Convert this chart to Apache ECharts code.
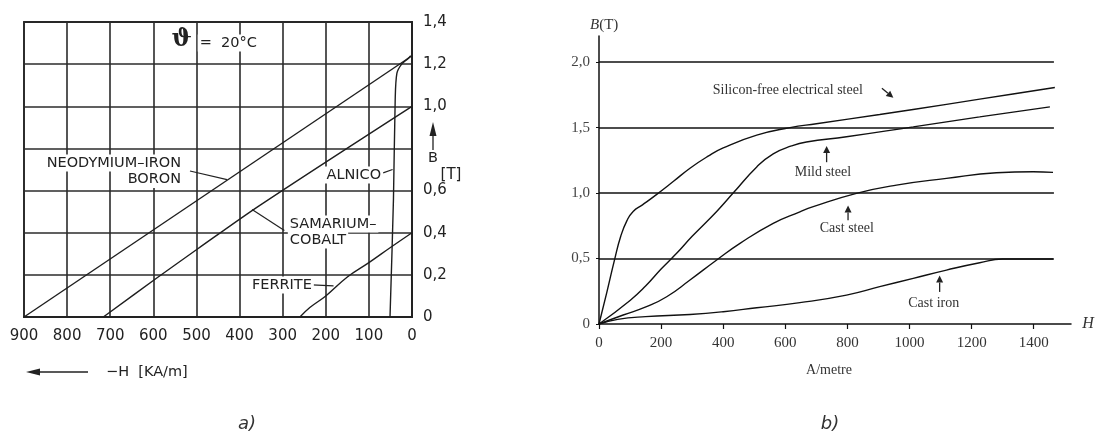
<!DOCTYPE html>
<html><head><meta charset="utf-8">
<script src="https://cdn.jsdelivr.net/npm/echarts@6/dist/echarts.min.js"></script>
<style>html,body{margin:0;padding:0;background:#fff;}#c{width:1099px;height:442px;}</style>
</head><body><div id="c"></div>
<script>
// ---------- Chart a) demagnetisation curves (-H in kA/m, B in T) ----------
const ndfebH   = [900, 0];
const ndfebB   = [0, 1.24];
const smcoH    = [716, 592, 496, 353, 0];
const smcoB    = [0, 0.185, 0.325, 0.53, 1.0];
const alnicoH  = [3, 10, 24, 35, 39, 43, 51];
const alnicoB  = [1.24, 1.225, 1.2, 1.157, 1.03, 0.56, 0];
const ferriteH = [260, 237, 200, 150, 100, 50, 0];
const ferriteB = [0, 0.045, 0.1, 0.19, 0.258, 0.33, 0.4];

// ---------- Chart b) B-H magnetisation curves (H in A/m, B in T) ----------
const siliconH = [0, 25, 50, 70, 90, 110, 140, 186, 240, 293, 350, 400, 508, 615, 700, 904, 1119, 1333, 1468];
const siliconB = [0, 0.24, 0.49, 0.67, 0.79, 0.86, 0.91, 0.99, 1.09, 1.19, 1.28, 1.345, 1.443, 1.5, 1.53, 1.6, 1.678, 1.757, 1.807];
const mildH    = [0, 100, 150, 200, 250, 300, 379, 432, 508, 561, 620, 668, 797, 1012, 1226, 1452];
const mildB    = [0, 0.18, 0.29, 0.42, 0.54, 0.67, 0.86, 1.0, 1.2, 1.3, 1.36, 1.39, 1.43, 1.506, 1.582, 1.659];
const castSteelH = [0, 78, 153, 218, 293, 379, 454, 561, 647, 690, 829, 958, 1119, 1280, 1398, 1462];
const castSteelB = [0, 0.069, 0.132, 0.208, 0.336, 0.489, 0.616, 0.769, 0.857, 0.896, 0.998, 1.061, 1.112, 1.155, 1.163, 1.158];
const castIronH = [0, 60, 150, 293, 400, 508, 647, 797, 904, 1012, 1119, 1226, 1300, 1462];
const castIronB = [0, 0.035, 0.056, 0.073, 0.094, 0.124, 0.163, 0.221, 0.285, 0.349, 0.412, 0.468, 0.496, 0.496];

const hTicksB = [0, 200, 400, 600, 800, 1000, 1200, 1400];
const bTicksB = [0, 0.5, 1.0, 1.5, 2.0];
const gridLinesB = [0.5, 1.0, 1.5, 2.0];
const gridEndH = 1465;
const hiddenLabelsA = [0.8];

const zip = (xs, ys) => xs.map((x, i) => [x, ys[i]]);
const commaFmt = v => (v === 0 ? '0' : v.toFixed(1).replace('.', ','));

const A_FONT = 'DejaVu Sans';
const B_FONT = 'Liberation Serif';

const aLine = (name, data, smooth) => ({
  name, type: 'line', xAxisIndex: 0, yAxisIndex: 0, data, smooth,
  showSymbol: false, symbol: 'none', silent: true,
  lineStyle: { color: '#1e1e1e', width: 1.4 }, z: 3
});
const bLine = (name, data, extra) => Object.assign({
  name, type: 'line', xAxisIndex: 1, yAxisIndex: 1, data, smooth: 0.5,
  showSymbol: false, symbol: 'none', silent: true,
  lineStyle: { color: '#111', width: 1.4 }, z: 3
}, extra || {});

const option = {
  animation: false,
  backgroundColor: '#fff',
  grid: [
    { left: 24, top: 22, width: 388, height: 295, show: true, borderColor: '#222', borderWidth: 1.8, backgroundColor: 'transparent' },
    { left: 599, top: 36, width: 472, height: 288 }
  ],
  xAxis: [
    { gridIndex: 0, type: 'value', inverse: true, min: 0, max: 900, interval: 100, position: 'bottom',
      axisLine: { show: true, lineStyle: { color: '#222', width: 1.8 } },
      axisTick: { show: false },
      axisLabel: { color: '#222', fontFamily: A_FONT, fontSize: 15, margin: 12, showMinLabel: true, showMaxLabel: true },
      splitLine: { show: true, lineStyle: { color: '#2b2b2b', width: 1.6 } } },
    { gridIndex: 1, type: 'value', min: 0, max: 1520, interval: 200,
      axisLine: { show: true, onZero: false, lineStyle: { color: '#111', width: 1.5 } },
      axisTick: { show: true, length: 5, customValues: hTicksB, lineStyle: { color: '#111', width: 1.2 } },
      axisLabel: { customValues: hTicksB, color: '#333', fontFamily: B_FONT, fontSize: 15, margin: 12,
        formatter: v => (v % 200 === 0 ? String(v) : '') },
      splitLine: { show: false } }
  ],
  yAxis: [
    { gridIndex: 0, type: 'value', position: 'right', min: 0, max: 1.4, interval: 0.2,
      axisLine: { show: true, lineStyle: { color: '#222', width: 1.8 } },
      axisTick: { show: false },
      axisLabel: { color: '#222', fontFamily: A_FONT, fontSize: 15, margin: 11,
        formatter: v => (hiddenLabelsA.some(h => Math.abs(h - v) < 1e-6) ? '' : commaFmt(v)) },
      splitLine: { show: true, lineStyle: { color: '#2b2b2b', width: 1.6 } } },
    { gridIndex: 1, type: 'value', min: 0, max: 2.2, interval: 0.5,
      axisLine: { show: true, onZero: false, lineStyle: { color: '#111', width: 1.5 } },
      axisTick: { show: true, length: 3, customValues: bTicksB, lineStyle: { color: '#111' } },
      axisLabel: { customValues: bTicksB, color: '#444', fontFamily: B_FONT, fontSize: 15, margin: 9,
        formatter: v => (bTicksB.indexOf(v) >= 0 ? commaFmt(v) : '') },
      splitLine: { show: false } }
  ],
  series: [
    aLine('Neodymium-Iron Boron', zip(ndfebH, ndfebB), false),
    aLine('Samarium-Cobalt', zip(smcoH, smcoB), 0.3),
    aLine('Alnico', zip(alnicoH, alnicoB), 0.3),
    aLine('Ferrite', zip(ferriteH, ferriteB), 0.4),
    bLine('Silicon-free electrical steel', zip(siliconH, siliconB), {
      markLine: { silent: true, symbol: 'none', label: { show: false },
        lineStyle: { color: '#111', width: 1.5, type: 'solid' },
        data: gridLinesB.map(b => [{ coord: [0, b] }, { coord: [gridEndH, b] }]) }
    }),
    bLine('Mild steel', zip(mildH, mildB)),
    bLine('Cast steel', zip(castSteelH, castSteelB)),
    bLine('Cast iron', zip(castIronH, castIronB))
  ]
};

const chart = echarts.init(document.getElementById('c'));
chart.setOption(option);

const pa = (h, b) => chart.convertToPixel({ gridIndex: 0 }, [h, b]);
const pb = (h, b) => chart.convertToPixel({ gridIndex: 1 }, [h, b]);

const g = [];
function text(p, str, font, align, color, bg, extra) {
  g.push(Object.assign({
    type: 'text', x: p[0], y: p[1], z: 10, silent: true,
    style: Object.assign({ text: str, font: font, fill: color || '#222', align: align || 'left', verticalAlign: 'middle' },
      bg ? { backgroundColor: '#fff', padding: [1, 2] } : {})
  }, extra || {}));
}
function line(p1, p2, color, w) {
  g.push({ type: 'line', z: 9, silent: true, shape: { x1: p1[0], y1: p1[1], x2: p2[0], y2: p2[1] },
    style: { stroke: color || '#222', lineWidth: w || 1.2 } });
}
function arrow(from, to, color, headLen, headW) {
  const dx = to[0] - from[0], dy = to[1] - from[1];
  const L = Math.sqrt(dx * dx + dy * dy), ux = dx / L, uy = dy / L;
  const bx = to[0] - ux * headLen, by = to[1] - uy * headLen;
  line(from, [bx, by], color, 1.3);
  g.push({ type: 'polygon', z: 9, silent: true,
    shape: { points: [to, [bx - uy * headW, by + ux * headW], [bx + uy * headW, by - ux * headW]] },
    style: { fill: color || '#222' } });
}

const AF = '14.5px "DejaVu Sans"';
// chart a annotations
text(pa(534, 1.315), 'ϑ', 'bold 24px "DejaVu Serif"', 'center', '#222', true);
text(pa(497, 1.30), '=  20°C', AF, 'left', '#222', true);
text(pa(531, 0.731), 'NEODYMIUM–IRON', AF, 'right', '#222', true);
text(pa(531, 0.652), 'BORON', AF, 'right', '#222', true);
line(pa(515, 0.693), pa(429, 0.652));
text(pa(67, 0.674), 'ALNICO', AF, 'right', '#222', true);
line(pa(67, 0.684), pa(45, 0.70));
text(pa(288, 0.441), 'SAMARIUM–', AF, 'left', '#222', true);
text(pa(288, 0.365), 'COBALT', AF, 'left', '#222', true);
line(pa(371, 0.51), pa(296, 0.41));
text(pa(376, 0.152), 'FERRITE', AF, 'left', '#222', true);
line(pa(232, 0.152), pa(182, 0.148));
// B arrow + unit on right of chart a
arrow([433, 150], [433, 122], '#222', 14, 3.5);
text([433, 158], 'B', AF, 'center');
text([451, 175], '[T]', '15px "DejaVu Sans"', 'center');
// -H arrow below chart a
arrow([88, 372], [26, 372], '#222', 14, 3.5);
text([106, 372], '−H  [KA/m]', AF, 'left');
text([247, 424], 'a)', 'italic 18px "DejaVu Sans"', 'center', '#333');

// chart b annotations
const BF = '14px "Liberation Serif"';
text(pb(608, 1.786), 'Silicon-free electrical steel', BF, 'center', '#333');
arrow(pb(911, 1.80), pb(948, 1.728), '#222', 7, 3.5);
text(pb(721, 1.16), 'Mild steel', BF, 'center', '#333');
arrow(pb(733, 1.236), pb(733, 1.36), '#222', 7, 3.5);
text(pb(798, 0.733), 'Cast steel', BF, 'center', '#333');
arrow(pb(802, 0.792), pb(802, 0.905), '#222', 7, 3.5);
text(pb(1078, 0.16), 'Cast iron', BF, 'center', '#333');
arrow(pb(1097, 0.245), pb(1097, 0.37), '#222', 7, 3.5);
text([829, 370], 'A/metre', BF, 'center', '#333');
g.push({ type: 'text', x: 590, y: 25, z: 10, silent: true,
  style: { text: '{i|B}(T)', font: '15px "Liberation Serif"', fill: '#333', verticalAlign: 'middle',
    rich: { i: { fontStyle: 'italic', fontFamily: 'Liberation Serif', fontSize: 15, fill: '#333' } } } });
text([1088, 324], 'H', 'italic 16px "Liberation Serif"', 'center', '#333');
text([830, 424], 'b)', 'italic 18px "DejaVu Sans"', 'center', '#333');

chart.setOption({ graphic: { elements: g } });
</script>
</body></html>
